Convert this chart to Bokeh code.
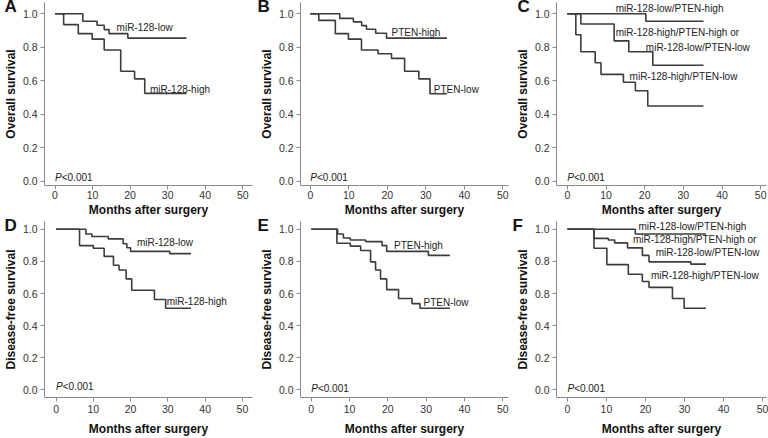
from bokeh.plotting import figure
from bokeh.layouts import column, row
from bokeh.models import FixedTicker, PrintfTickFormatter
from bokeh.core.properties import value
from bokeh.embed import file_html
from bokeh.resources import INLINE

FONT = "Liberation Sans"
LINE_COLOR = "#3c3c3c"
AXIS_COLOR = "#8a8a8a"

x_ticks = [0, 10, 20, 30, 40, 50]
y_ticks = [0.0, 0.2, 0.4, 0.6, 0.8, 1.0]
x_label = "Months after surgery"
os_label = "Overall survival"
dfs_label = "Disease-free survival"
p_text = "<0.001"

# ---- Panel A: overall survival by miR-128 ----
a_low_t = [0, 7.4, 11.2, 13.1, 14.4, 19.4, 35.0]
a_low_s = [1.0, 0.955, 0.931, 0.905, 0.881, 0.854, 0.854]
a_high_t = [0, 2.3, 6.2, 9.9, 13.1, 17.5, 21.2, 23.9, 35.0]
a_high_s = [1.0, 0.935, 0.881, 0.848, 0.783, 0.656, 0.611, 0.524, 0.524]

# ---- Panel B: overall survival by PTEN ----
b_high_t = [0, 7.65, 11.2, 13.35, 14.6, 17.0, 19.8, 35.5]
b_high_s = [1.0, 0.972, 0.951, 0.929, 0.907, 0.883, 0.854, 0.854]
b_low_t = [0, 2.2, 6.5, 9.9, 13.3, 17.6, 21.1, 24.5, 28.2, 31.1, 35.5]
b_low_s = [1.0, 0.960, 0.881, 0.848, 0.783, 0.761, 0.733, 0.656, 0.611, 0.522, 0.522]

# ---- Panel C: overall survival by combined groups ----
c_g1_t = [0, 20.3, 35.2]
c_g1_s = [1.0, 0.955, 0.955]
c_g2_t = [0, 3.5, 12.1, 15.9, 22.1, 35.2]
c_g2_s = [1.0, 0.939, 0.838, 0.773, 0.692, 0.692]
c_g3_t = [0, 2.2, 3.5, 7.2, 8.7, 14.5, 17.6, 20.8, 35.2]
c_g3_s = [1.0, 0.874, 0.773, 0.707, 0.638, 0.591, 0.540, 0.449, 0.449]

# ---- Panel D: disease-free survival by miR-128 ----
d_low_t = [0, 8.0, 9.6, 14.0, 18.0, 19.0, 20.0, 30.5, 36.2]
d_low_s = [1.0, 0.970, 0.955, 0.940, 0.910, 0.885, 0.862, 0.848, 0.848]
d_high_t = [0, 6.3, 10.0, 12.9, 15.4, 16.9, 18.8, 20.3, 26.4, 29.4, 36.2]
d_high_s = [1.0, 0.898, 0.882, 0.831, 0.776, 0.746, 0.691, 0.620, 0.563, 0.508, 0.508]

# ---- Panel E: disease-free survival by PTEN ----
e_high_t = [0, 6.9, 8.4, 10.2, 14.2, 18.5, 19.7, 30.6, 36.2]
e_high_s = [1.0, 0.970, 0.945, 0.933, 0.923, 0.898, 0.862, 0.837, 0.837]
e_low_t = [0, 6.7, 10.2, 12.9, 15.5, 16.8, 18.1, 19.7, 22.8, 26.3, 28.4, 36.2]
e_low_s = [1.0, 0.913, 0.895, 0.868, 0.797, 0.746, 0.691, 0.624, 0.569, 0.537, 0.508, 0.508]

# ---- Panel F: disease-free survival by combined groups ----
f_g1_t = [0, 17.4, 35.5]
f_g1_s = [1.0, 0.970, 0.970]
f_g2_t = [0, 6.8, 10.5, 12.1, 15.4, 19.2, 20.9, 31.6, 35.5]
f_g2_s = [1.0, 0.943, 0.933, 0.915, 0.884, 0.837, 0.797, 0.783, 0.783]
f_g3_t = [0, 6.8, 10.1, 15.6, 19.2, 20.9, 26.9, 29.9, 35.5]
f_g3_s = [1.0, 0.882, 0.780, 0.720, 0.675, 0.638, 0.569, 0.508, 0.508]

# curve label texts and positions (left edge x, centre y)
a_labels = [("miR-128-low", 16.4, 0.915), ("miR-128-high", 25.3, 0.547)]
b_labels = [("PTEN-high", 21.1, 0.885), ("PTEN-low", 32.1, 0.547)]
c_labels = [("miR-128-low/PTEN-high", 12.5, 1.032),
            ("miR-128-high/PTEN-high or", 12.5, 0.885),
            ("miR-128-low/PTEN-low", 20.3, 0.800),
            ("miR-128-high/PTEN-low", 16.1, 0.623)]
d_labels = [("miR-128-low", 21.7, 0.915), ("miR-128-high", 29.7, 0.553)]
e_labels = [("PTEN-high", 21.6, 0.898), ("PTEN-low", 29.3, 0.543)]
f_labels = [("miR-128-low/PTEN-high", 18.2, 1.020),
            ("miR-128-high/PTEN-high or", 16.8, 0.935),
            ("miR-128-low/PTEN-low", 22.6, 0.854),
            ("miR-128-high/PTEN-low", 21.4, 0.711)]


def make_panel(letter, ylabel, curves, labels, p_y, xr, yr,
               border_left, border_right, border_bottom,
               letter_offset, tick_standoff, label_standoff, overrides=None):
    p = figure(width=256, height=219, x_range=xr, y_range=yr,
               output_backend="svg", toolbar_location=None,
               min_border_left=border_left, min_border_right=border_right,
               min_border_top=2, min_border_bottom=border_bottom)
    p.outline_line_color = None
    p.grid.visible = False
    p.background_fill_color = "white"
    p.border_fill_color = "white"

    # panel letter as the figure title, pulled down next to the 1.0 tick
    p.title.text = letter
    p.title.align = "left"
    p.title.offset = letter_offset
    p.title.standoff = -27
    p.title.text_font = FONT
    p.title.text_font_style = "bold"
    p.title.text_font_size = "17px"
    p.title.text_color = "#111111"

    for ax in (p.xaxis[0], p.yaxis[0]):
        ax.axis_line_color = AXIS_COLOR
        ax.axis_line_width = 1
        ax.major_tick_line_color = AXIS_COLOR
        ax.major_tick_in = 0
        ax.major_tick_out = 4
        ax.minor_tick_line_color = None
        ax.major_label_text_font = FONT
        ax.major_label_text_font_size = "10.5px"
        ax.major_label_text_color = "#333333"
        ax.axis_label_text_font = FONT
        ax.axis_label_text_font_style = "bold"
        ax.axis_label_text_font_size = "12px"
        ax.axis_label_text_color = "#111111"

    p.xaxis.ticker = FixedTicker(ticks=x_ticks)
    p.yaxis.ticker = FixedTicker(ticks=y_ticks)
    p.yaxis.formatter = PrintfTickFormatter(format="%.1f")
    if overrides:
        p.yaxis.major_label_overrides = overrides
    p.xaxis.axis_label = x_label
    p.yaxis.axis_label = ylabel
    p.xaxis.major_label_standoff = tick_standoff
    p.yaxis.major_label_standoff = 3
    p.xaxis.axis_label_standoff = label_standoff
    p.yaxis.axis_label_standoff = 2

    for t, s in curves:
        p.step(t, s, mode="after", line_color=LINE_COLOR, line_width=1.6)

    p.text(x=[l[1] for l in labels], y=[l[2] for l in labels],
           text=[l[0] for l in labels], text_font=value(FONT),
           text_font_size="10px", text_color="#222222",
           text_align="left", text_baseline="middle")

    p.text(x=[0], y=[p_y], text=["P"], text_font=value(FONT),
           text_font_style="italic", text_font_size="10px",
           text_color="#222222", text_align="left", text_baseline="middle")
    p.text(x=[0], y=[p_y], text=[p_text], text_font=value(FONT),
           text_font_size="10px", text_color="#222222", x_offset=6.7,
           text_align="left", text_baseline="middle")
    return p


top_yr = (-0.026, 1.067)
bot_yr = (-0.047, 1.048)

pa = make_panel("A", os_label, [(a_low_t, a_low_s), (a_high_t, a_high_s)],
                a_labels, 0.024, (-2.8, 52.6), top_yr, 37, 4, 34, -40, 1, 1)
pb = make_panel("B", os_label, [(b_high_t, b_high_s), (b_low_t, b_low_s)],
                b_labels, 0.024, (-2.55, 51.5), top_yr, 40, 4, 34, -43, 1, 1)
pc = make_panel("C", os_label, [(c_g1_t, c_g1_s), (c_g2_t, c_g2_s), (c_g3_t, c_g3_s)],
                c_labels, 0.024, (-2.8, 51.5), top_yr, 41, 2, 34, -39, 1, 1)
pd = make_panel("D", dfs_label, [(d_low_t, d_low_s), (d_high_t, d_high_s)],
                d_labels, 0.024, (-3.1, 52.7), bot_yr, 37, 4, 36, -40, 3, 6)
pe = make_panel("E", dfs_label, [(e_high_t, e_high_s), (e_low_t, e_low_s)],
                e_labels, 0.006, (-2.8, 51.5), bot_yr, 40, 4, 36, -43, 3, 6)
pf = make_panel("F", dfs_label, [(f_g1_t, f_g1_s), (f_g2_t, f_g2_s), (f_g3_t, f_g3_s)],
                f_labels, 0.006, (-2.8, 51.0), bot_yr, 41, 2, 36, -44, 3, 6,
                overrides={0.6: "0.8"})

layout = column(row(pa, pb, pc), row(pd, pe, pf))
open("out.html", "w").write(file_html(layout, INLINE))
